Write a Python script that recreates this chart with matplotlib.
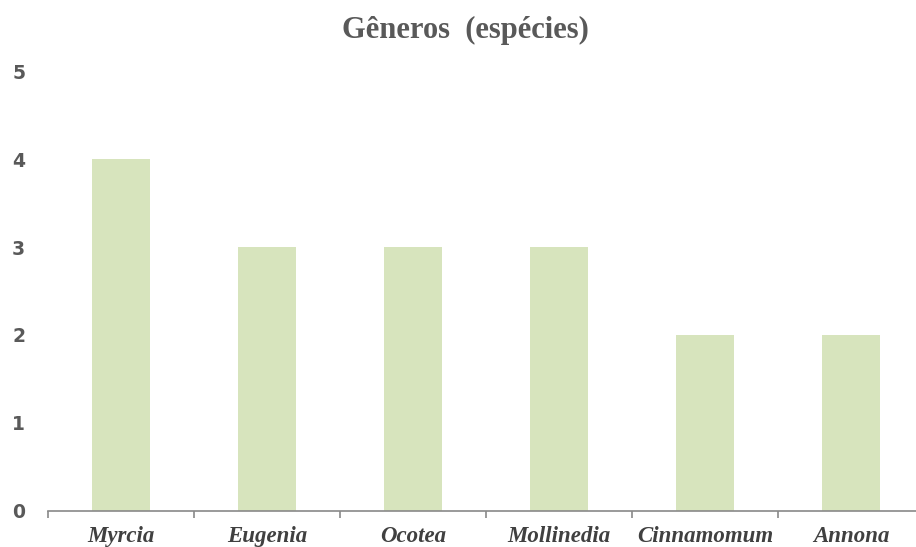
import matplotlib
matplotlib.use("Agg")
import matplotlib.pyplot as plt
from matplotlib.ticker import FixedLocator

categories = ["Myrcia", "Eugenia", "Ocotea", "Mollinedia", "Cinnamomum", "Annona"]
values = [4, 3, 3, 3, 2, 2]
yticks = [0, 1, 2, 3, 4, 5]
title = "Gêneros  (espécies)"

W, H = 916, 547
fig = plt.figure(figsize=(W/100, H/100), dpi=100)
left, right = 48/W, 924/W
bottom, top = 1 - 510.5/H, 1 - 71.5/H
ax = fig.add_axes([left, bottom, right-left, top-bottom])

x = list(range(len(categories)))
ax.bar(x, values, width=0.4, color="#D7E4BD", zorder=2)
ax.set_xlim(-0.5, len(categories)-0.5)
ax.set_ylim(0, 5)

for s in ["top", "right", "left"]:
    ax.spines[s].set_visible(False)
ax.spines["bottom"].set_color("#898989")
ax.spines["bottom"].set_linewidth(1.2)

ax.set_yticks(yticks)
ax.set_yticklabels([str(v) for v in yticks], fontsize=13.5, fontweight="bold",
                   color="#595959", family="DejaVu Sans")
ax.tick_params(axis="y", length=0, pad=16.5)

ax.set_xticks(x)
ax.set_xticklabels(categories, family="Liberation Serif", fontstyle="italic",
                   fontweight="bold", fontsize=16.5, color="#404040")
ax.tick_params(axis="x", which="major", length=0, pad=11)
ax.xaxis.set_minor_locator(FixedLocator([i - 0.5 for i in range(len(categories)+1)]))
ax.tick_params(axis="x", which="minor", length=5, width=1.2, color="#898989", direction="out")

fig.text(465/W, 1 - 30/H, title, ha="center", va="center", family="Liberation Serif",
         fontweight="bold", fontsize=22, color="#595959")

fig.savefig("out.png", dpi=100)
